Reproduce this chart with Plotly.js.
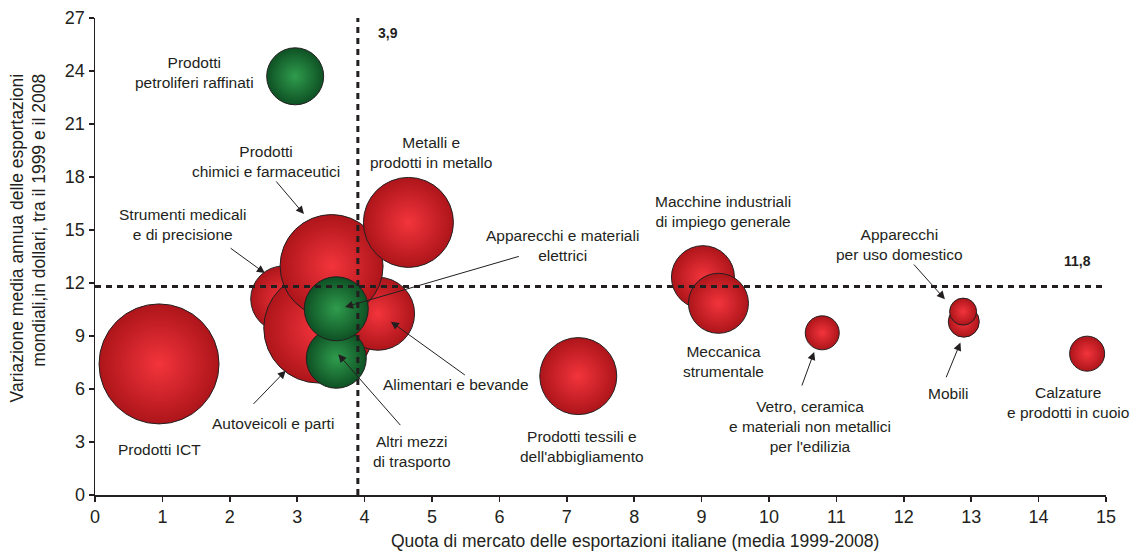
<!DOCTYPE html>
<html>
<head>
<meta charset="utf-8">
<script src="https://cdn.plot.ly/plotly-3.0.1.min.js"></script>
<style>html,body{margin:0;padding:0;background:#fff;}#chart{width:1141px;height:552px;}</style>
</head>
<body>
<div id="chart"></div>
<script>
// ---- Data ----
const settori = [
  "Prodotti ICT",
  "Prodotti petroliferi raffinati",
  "Strumenti medicali e di precisione",
  "Autoveicoli e parti",
  "Alimentari e bevande",
  "Prodotti chimici e farmaceutici",
  "Metalli e prodotti in metallo",
  "Altri mezzi di trasporto",
  "Apparecchi e materiali elettrici",
  "Prodotti tessili e dell'abbigliamento",
  "Macchine industriali di impiego generale",
  "Meccanica strumentale",
  "Vetro, ceramica e materiali non metallici per l'edilizia",
  "Mobili",
  "Apparecchi per uso domestico",
  "Calzature e prodotti in cuoio"
];
const quota      = [0.95, 2.97, 2.80, 3.32, 4.20, 3.51, 4.65, 3.58, 3.58, 7.17, 9.02, 9.25, 10.79, 12.89, 12.88, 14.72];
const variazione = [7.42, 23.70, 11.10, 9.45, 10.26, 12.96, 15.43, 7.74, 10.54, 6.73, 12.33, 10.85, 9.18, 9.81, 10.38, 8.00];
const dimensione = [120, 57, 66, 110, 73, 103, 90, 60, 64, 77, 63, 60, 34, 31, 27, 35];
const gruppo     = ["r","v","r","r","r","r","r","v","v","r","r","r","r","r","r","r"];

const mediaQuota = 3.9;
const mediaVariazione = 11.8;
const xTicks = [0,1,2,3,4,5,6,7,8,9,10,11,12,13,14,15];
const yTicks = [0,3,6,9,12,15,18,21,24,27];

const titoloX = "Quota di mercato delle esportazioni italiane (media 1999-2008)";
const titoloY = "Variazione media annua delle esportazioni<br>mondiali,in dollari, tra il 1999 e il 2008";

// labels: [text, x, y]
const etichette = [
  ["Prodotti<br>petroliferi raffinati", 1.48, 23.94],
  ["Metalli e<br>prodotti in metallo", 4.99, 19.40],
  ["Prodotti<br>chimici e farmaceutici", 2.54, 18.85],
  ["Strumenti medicali<br>e di precisione", 1.31, 15.30],
  ["Apparecchi e materiali<br>elettrici", 6.93, 14.15],
  ["Macchine industriali<br>di impiego generale", 9.32, 16.07],
  ["Apparecchi<br>per uso domestico", 11.94, 14.18],
  ["Meccanica<br>strumentale", 9.32, 7.53],
  ["Alimentari e bevande", 5.36, 6.23],
  ["Autoveicoli e parti", 2.64, 4.07],
  ["Prodotti ICT", 0.96, 2.55],
  ["Altri mezzi<br>di trasporto", 4.70, 2.49],
  ["Prodotti tessili e<br>dell'abbigliamento", 7.23, 2.72],
  ["Vetro, ceramica<br>e materiali non metallici<br>per l'edilizia", 10.61, 3.85],
  ["Mobili", 12.66, 5.77],
  ["Calzature<br>e prodotti in cuoio", 14.44, 5.26]
];
// arrows: [headX, headY, tailX, tailY]
const frecce = [
  [3.10, 15.90, 2.67, 17.83],
  [2.52, 12.56, 1.99, 14.03],
  [3.71, 10.64, 6.31, 13.53],
  [4.39, 9.81, 5.51, 6.73],
  [2.83, 7.04, 2.33, 5.07],
  [3.61, 7.96, 4.55, 3.87],
  [12.61, 11.08, 12.13, 13.13],
  [12.84, 8.63, 12.62, 6.58],
  [10.67, 8.10, 10.48, 6.11]
];

const INK = "#231f20";
const FONT = "'Liberation Sans', Arial, Helvetica, sans-serif";

const trace = {
  type: "scatter",
  mode: "markers",
  x: quota,
  y: variazione,
  text: settori,
  hoverinfo: "text",
  cliponaxis: false,
  marker: {
    size: dimensione,
    sizemode: "diameter",
    sizeref: 1,
    opacity: 1,
    color: gruppo.map(g => g === "v" ? "#0e5124" : "#ad151a"),
    gradient: { type: "radial", color: gruppo.map(g => g === "v" ? "#2f9c4d" : "#f3343c") },
    line: { color: INK, width: 1 }
  }
};

const annotations = [];
etichette.forEach(e => annotations.push({
  text: e[0], x: e[1], y: e[2], xref: "x", yref: "y",
  showarrow: false, xanchor: "center", yanchor: "middle", align: "center",
  font: { family: FONT, size: 15.5, color: INK }
}));
frecce.forEach(f => annotations.push({
  text: "", x: f[0], y: f[1], ax: f[2], ay: f[3], xref: "x", yref: "y", axref: "x", ayref: "y",
  showarrow: true, arrowhead: 2, arrowsize: 1.6, arrowwidth: 1, arrowcolor: INK, standoff: 0, startstandoff: 0
}));
annotations.push({ text: "<b>" + String(mediaQuota).replace(".", ",") + "</b>", x: 4.35, y: 26.15, xref: "x", yref: "y", showarrow: false,
  font: { family: FONT, size: 14, color: INK } });
annotations.push({ text: "<b>" + String(mediaVariazione).replace(".", ",") + "</b>", x: 14.58, y: 13.24, xref: "x", yref: "y", showarrow: false,
  font: { family: FONT, size: 14, color: INK } });
// axis titles
annotations.push({ text: titoloX, xref: "paper", yref: "paper", x: 0.534, y: -0.0964,
  xanchor: "center", yanchor: "middle", showarrow: false,
  font: { family: FONT, size: 17.5, color: INK } });
annotations.push({ text: titoloY, xref: "paper", yref: "paper", x: -0.0663, y: 0.54,
  xanchor: "center", yanchor: "middle", showarrow: false, textangle: -90, align: "right",
  font: { family: FONT, size: 17.5, color: INK } });

const layout = {
  width: 1141, height: 552,
  margin: { l: 95, r: 35, t: 18, b: 57 },
  paper_bgcolor: "#fff", plot_bgcolor: "#fff",
  showlegend: false,
  font: { family: FONT, color: INK },
  xaxis: {
    range: [0, 15], tickvals: xTicks, ticktext: xTicks.map(String),
    ticks: "outside", ticklen: 5, tickwidth: 1.5, tickcolor: INK,
    showline: true, linewidth: 1.5, linecolor: INK,
    showgrid: false, zeroline: false,
    tickfont: { family: FONT, size: 18, color: INK }
  },
  yaxis: {
    range: [0, 27], tickvals: yTicks, ticktext: yTicks.map(String),
    ticks: "outside", ticklen: 5, tickwidth: 1.5, tickcolor: INK,
    showline: true, linewidth: 1.5, linecolor: INK,
    showgrid: false, zeroline: false,
    tickfont: { family: FONT, size: 18, color: INK }
  },
  shapes: [
    { type: "line", xref: "x", yref: "y", x0: mediaQuota, x1: mediaQuota, y0: 0, y1: 27, layer: "above",
      line: { color: INK, width: 3, dash: "6px,5px" } },
    { type: "line", xref: "x", yref: "y", x0: 0, x1: 15, y0: mediaVariazione, y1: mediaVariazione, layer: "above",
      line: { color: INK, width: 3, dash: "6px,5px" } }
  ],
  annotations: annotations
};

Plotly.newPlot("chart", [trace], layout, { displayModeBar: false, staticPlot: true });
</script>
</body>
</html>
